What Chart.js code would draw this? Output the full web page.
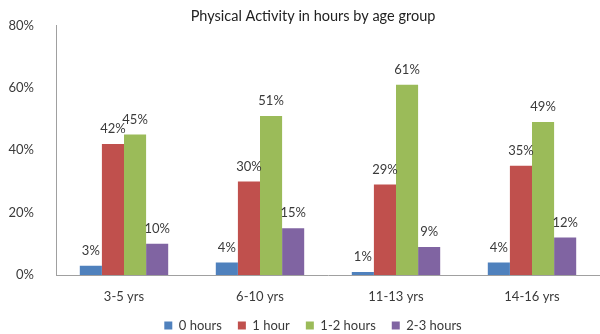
<!DOCTYPE html>
<html>
<head>
<meta charset="utf-8">
<script src="https://cdn.jsdelivr.net/npm/chart.js@4/dist/chart.umd.min.js"></script>
<style>
  html, body { margin: 0; padding: 0; background: #fff; }
  #wrap { width: 600px; height: 334px; position: relative; }
</style>
</head>
<body>
<div id="wrap"><canvas id="activityChart"></canvas></div>
<script>
// Age groups and share of kids per activity bracket (%)
const ageGroups = ['3-5 yrs', '6-10 yrs', '11-13 yrs', '14-16 yrs'];
const zeroHours = [3, 4, 1, 4];
const oneHour = [42, 30, 29, 35];
const oneToTwoHours = [45, 51, 61, 49];
const twoToThreeHours = [10, 15, 9, 12];
const yTicks = [0, 20, 40, 60, 80];

const FONT = 'Lato, "Open Sans", sans-serif';
const TEXT = '#3a3a3a';

// Draw the value above every bar
const barLabels = {
  id: 'barLabels',
  afterDatasetsDraw(chart) {
    const ctx = chart.ctx;
    ctx.save();
    ctx.font = '13px ' + FONT;
    ctx.fillStyle = TEXT;
    ctx.textAlign = 'center';
    ctx.textBaseline = 'middle';
    chart.data.datasets.forEach((ds, i) => {
      chart.getDatasetMeta(i).data.forEach((bar, j) => {
        ctx.fillText(ds.data[j] + '%', bar.x, bar.y - 15);
      });
    });
    ctx.restore();
  }
};

// Title and legend sit a little right of the canvas centre
const nudgeBlocks = {
  id: 'nudgeBlocks',
  afterLayout(chart) {
    [chart.titleBlock, chart.legend].forEach((b) => {
      if (!b) return;
      b.left += 13;
      b.right += 13;
    });
  }
};

new Chart(document.getElementById('activityChart').getContext('2d'), {
  type: 'bar',
  data: {
    labels: ageGroups,
    datasets: [
      { label: '0 hours', data: zeroHours, backgroundColor: '#4F81BD' },
      { label: '1 hour', data: oneHour, backgroundColor: '#C0504D' },
      { label: '1-2 hours', data: oneToTwoHours, backgroundColor: '#9BBB59' },
      { label: '2-3 hours', data: twoToThreeHours, backgroundColor: '#8064A2' }
    ]
  },
  options: {
    responsive: true,
    maintainAspectRatio: false,
    animation: false,
    layout: { padding: { left: 0, right: 0, top: 0, bottom: -8 } },
    datasets: { bar: { categoryPercentage: 0.65, barPercentage: 1.0 } },
    plugins: {
      title: {
        display: true,
        text: 'Physical Activity in hours by age group',
        color: '#222',
        font: { family: FONT, size: 14.5, weight: 'normal' },
        padding: { top: 8, bottom: 0 }
      },
      legend: {
        position: 'bottom',
        labels: {
          boxWidth: 8,
          boxHeight: 8,
          padding: 16,
          color: TEXT,
          font: { family: FONT, size: 13 }
        }
      },
      tooltip: { enabled: false }
    },
    scales: {
      x: {
        grid: { display: false },
        border: { display: true, color: '#a0a0a0' },
        ticks: { color: TEXT, font: { family: FONT, size: 13 }, padding: 6 },
        afterFit: (s) => { s.height = 28; }
      },
      y: {
        min: 0,
        max: 80,
        grid: { display: false },
        border: { display: true, color: '#a0a0a0' },
        afterBuildTicks: (s) => { s.ticks = yTicks.map(v => ({ value: v })); },
        ticks: {
          color: TEXT,
          font: { family: FONT, size: 13 },
          padding: 14,
          callback: (v) => v + '%'
        },
        afterFit: (s) => { s.width = 56; }
      }
    }
  },
  plugins: [barLabels, nudgeBlocks]
});
</script>
</body>
</html>
